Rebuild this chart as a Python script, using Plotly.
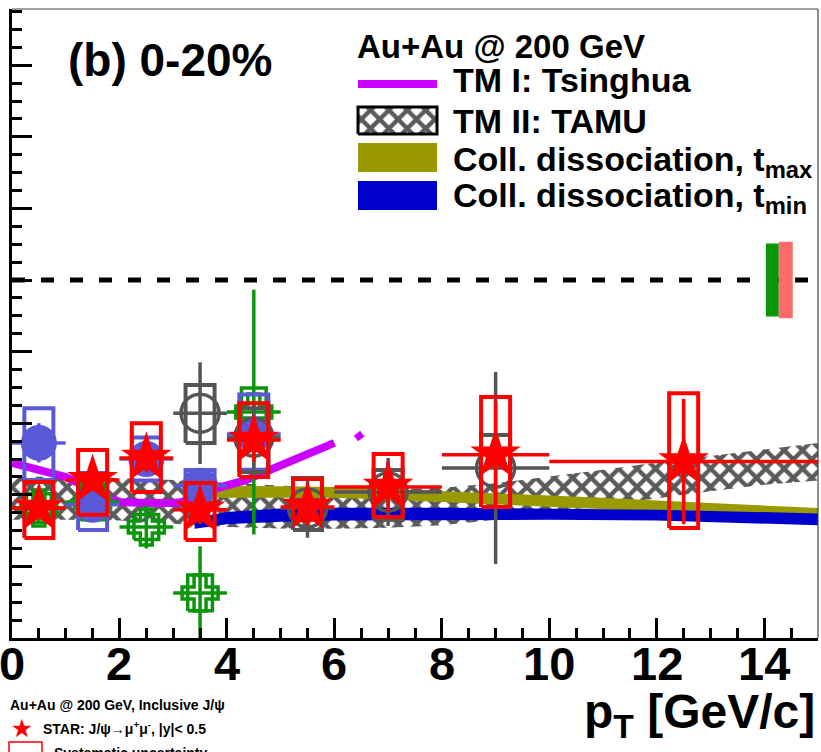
import plotly.graph_objects as go

# ---------------- data ----------------
# STAR J/psi -> mu+ mu-, |y| < 0.5, Au+Au 200 GeV, 0-20%
star_pt = [0.5, 1.5, 2.5, 3.5, 4.5, 5.5, 7.0, 9.0, 12.5]
star_raa = [0.363, 0.441, 0.503, 0.358, 0.553, 0.366, 0.422, 0.512, 0.493]
star_stat = [0.03, 0.03, 0.04, 0.04, 0.06, 0.05, 0.07, 0.15, 0.175]
star_xerr = [0.5, 0.5, 0.5, 0.5, 0.5, 0.5, 1.0, 1.0, 2.5]
star_sys_up = [0.073, 0.084, 0.097, 0.075, 0.103, 0.078, 0.092, 0.161, 0.191]
star_sys_dn = [0.084, 0.097, 0.095, 0.084, 0.103, 0.036, 0.084, 0.146, 0.186]

# low-pT reference measurement (filled circles)
blue_pt = [0.5, 1.5, 2.5, 3.5, 4.5]
blue_raa = [0.545, 0.372, 0.50, 0.425, 0.57]
blue_stat = [0.055, 0.03, 0.04, 0.04, 0.05]
blue_xerr = [0.5, 0.5, 0.5, 0.5, 0.5]
blue_sys_up = [0.097, 0.089, 0.06, 0.044, 0.11]
blue_sys_dn = [0.104, 0.07, 0.06, 0.05, 0.10]

# open crosses
green_pt = [0.5, 1.5, 2.5, 3.5, 4.5]
green_raa = [0.363, 0.38, 0.31, 0.126, 0.631]
green_stat = [0.04, 0.04, 0.06, 0.13, 0.342]
green_xerr = [0.5, 0.5, 0.5, 0.5, 0.5]
green_sys = [0.04, 0.05, 0.035, 0.05, 0.067]

# open circles, high pT
grey_pt = [3.5, 4.5, 5.5, 7.0, 9.0]
grey_raa = [0.628, 0.561, 0.363, 0.408, 0.475]
grey_stat = [0.142, 0.09, 0.083, 0.095, 0.268]
grey_xerr = [0.5, 0.5, 0.5, 1.0, 1.0]
grey_sys_up = [0.079, 0.081, 0.084, 0.061, 0.092]
grey_sys_dn = [0.083, 0.097, 0.061, 0.078, 0.109]

# TM I: Tsinghua
tm1_pt = [0.0, 0.5, 1.0, 1.5, 2.0, 2.5, 3.0, 3.5, 3.8, 4.35, 5.0, 5.5, 6.0, None, 6.42, 6.5]
tm1_raa = [0.489, 0.47, 0.45, 0.413, 0.38, 0.377, 0.377, 0.385, 0.418, 0.441, 0.482, 0.51, 0.545, None, 0.572, 0.556]

# TM II: TAMU band
tamu_pt = [0, 1, 2, 3, 4, 5, 6, 7, 8, 9, 10, 11, 12, 13, 14, 15]
tamu_hi = [0.452, 0.45, 0.447, 0.441, 0.433, 0.425, 0.418, 0.415, 0.42, 0.432, 0.45, 0.47, 0.49, 0.508, 0.527, 0.545]
tamu_lo = [0.33, 0.33, 0.328, 0.32, 0.31, 0.306, 0.305, 0.308, 0.315, 0.33, 0.35, 0.37, 0.39, 0.41, 0.428, 0.44]

# collisional dissociation, t_max
cdmax_pt = [3.6, 4, 5, 6, 7, 8, 9, 10, 11, 12, 13, 14, 15]
cdmax_hi = [0.425, 0.425, 0.424, 0.422, 0.416, 0.41, 0.405, 0.40, 0.392, 0.384, 0.377, 0.37, 0.363]
cdmax_lo = [0.392, 0.392, 0.392, 0.392, 0.386, 0.38, 0.374, 0.368, 0.36, 0.353, 0.346, 0.34, 0.332]

# collisional dissociation, t_min
cdmin_pt = [3.4, 4, 5, 6, 8, 10, 12, 13, 14, 15]
cdmin_hi = [0.335, 0.352, 0.362, 0.364, 0.364, 0.362, 0.358, 0.355, 0.352, 0.348]
cdmin_lo = [0.305, 0.318, 0.325, 0.328, 0.330, 0.330, 0.328, 0.324, 0.32, 0.315]

# global normalisation uncertainties around unity
global_unc = [0.102, 0.107]

x_ticks = [0, 2, 4, 6, 8, 10, 12, 14]

# ---------------- styling ----------------
W, H = 821, 752
ML, MR, MT, MB = 12, 3, 9, 114
X_RANGE = [0, 15]
Y_RANGE = [0, 1.757]
FONT = "Liberation Sans, Arial, Helvetica, sans-serif"

RED = "#ff0000"
BLUE_PT = "#5a5ad8"
GREEN = "#0a960a"
GREY = "#555555"
MAGENTA = "#cc00ff"
OLIVE = "#999900"
NAVY = "#0000cc"
HATCH = dict(shape="x", fgcolor="#5a5a5a", bgcolor="rgba(0,0,0,0)",
             size=13, solidity=0.55, fgopacity=1)

BOX_HW = 0.27


def paper_x(px):
    return (px - ML) / (W - ML - MR)


def paper_y(py):
    return (H - MB - py) / (H - MT - MB)


def data_x(px):
    return X_RANGE[0] + paper_x(px) * (X_RANGE[1] - X_RANGE[0])


def data_y(py):
    return Y_RANGE[0] + paper_y(py) * (Y_RANGE[1] - Y_RANGE[0])


def box_path(xs, ys, up, dn, hw):
    bx, by = [], []
    for x, y, u, d in zip(xs, ys, up, dn):
        bx += [x - hw, x + hw, x + hw, x - hw, x - hw, None]
        by += [y - d, y - d, y + u, y + u, y - d, None]
    return bx, by


def band(xs, lo, hi):
    return list(xs) + list(xs)[::-1], list(hi) + list(lo)[::-1]


fig = go.Figure()

# model bands
bx, by = band(tamu_pt, tamu_lo, tamu_hi)
fig.add_trace(go.Scatter(
    x=bx, y=by, mode="lines", fill="toself", line=dict(width=0),
    fillcolor="rgba(0,0,0,0)", fillpattern=HATCH, hoverinfo="skip"))

bx, by = band(cdmax_pt, cdmax_lo, cdmax_hi)
fig.add_trace(go.Scatter(x=bx, y=by, mode="lines", fill="toself",
                         line=dict(width=0, color=OLIVE), fillcolor=OLIVE))

bx, by = band(cdmin_pt, cdmin_lo, cdmin_hi)
fig.add_trace(go.Scatter(x=bx, y=by, mode="lines", fill="toself",
                         line=dict(width=0, color=NAVY), fillcolor=NAVY))

fig.add_trace(go.Scatter(x=tm1_pt, y=tm1_raa, mode="lines",
                         line=dict(color=MAGENTA, width=8), connectgaps=False))


def add_points(xs, ys, stat, xerr, sys_up, sys_dn, color, marker, hw, lw=4):
    sx, sy = box_path(xs, ys, sys_up, sys_dn, hw)
    fig.add_trace(go.Scatter(x=sx, y=sy, mode="lines",
                             line=dict(color=color, width=lw)))
    fig.add_trace(go.Scatter(
        x=xs, y=ys, mode="markers", marker=marker,
        error_x=dict(type="data", array=xerr, color=color, thickness=3.5, width=0),
        error_y=dict(type="data", array=stat, color=color, thickness=3.5, width=0)))


add_points(green_pt, green_raa, green_stat, green_xerr, green_sys, green_sys, GREEN,
           dict(symbol="cross-open", size=30, color=GREEN, line=dict(width=3.5, color=GREEN)),
           0.23, lw=3.5)
add_points(blue_pt, blue_raa, blue_stat, blue_xerr, blue_sys_up, blue_sys_dn, BLUE_PT,
           dict(symbol="circle", size=36, color=BLUE_PT, line=dict(width=0)), BOX_HW)
add_points(grey_pt, grey_raa, grey_stat, grey_xerr, grey_sys_up, grey_sys_dn, GREY,
           dict(symbol="circle-open", size=38, color=GREY, line=dict(width=3.5, color=GREY)),
           BOX_HW)
add_points(star_pt, star_raa, star_stat, star_xerr, star_sys_up, star_sys_dn, RED,
           dict(symbol="star", size=38, color=RED, line=dict(width=0)), BOX_HW)

# hatched swatch for the TAMU legend entry
sw_x = [data_x(358), data_x(437), data_x(437), data_x(358), data_x(358)]
sw_y = [data_y(134), data_y(134), data_y(107), data_y(107), data_y(134)]
fig.add_trace(go.Scatter(
    x=sw_x, y=sw_y, mode="lines", fill="toself", line=dict(color="black", width=3),
    fillcolor="rgba(0,0,0,0)", fillpattern=HATCH))

shapes = []
# unity reference
shapes.append(dict(type="line", xref="paper", yref="y", x0=0, x1=1, y0=1, y1=1,
                   line=dict(color="black", width=5, dash="13px,16px"), layer="below"))
# global uncertainty boxes
for (gx0, gx1), g, col in zip([(14.03, 14.27), (14.27, 14.53)], global_unc,
                              [GREEN, "#ff6b6b"]):
    shapes.append(dict(type="rect", xref="x", yref="y", x0=gx0, x1=gx1,
                       y0=1 - g, y1=1 + g, fillcolor=col, line=dict(width=0)))
# thin frame on top and right
shapes.append(dict(type="line", xref="paper", yref="paper", x0=0, x1=1, y0=1, y1=1,
                   line=dict(color="#444444", width=1.2)))
shapes.append(dict(type="line", xref="paper", yref="paper", x0=1, x1=1, y0=0, y1=1,
                   line=dict(color="#444444", width=1.2)))
# legend swatches
shapes.append(dict(type="line", xref="paper", yref="paper",
                   x0=paper_x(358), x1=paper_x(437), y0=paper_y(84), y1=paper_y(84),
                   line=dict(color=MAGENTA, width=8)))
shapes.append(dict(type="rect", xref="paper", yref="paper",
                   x0=paper_x(358), x1=paper_x(437), y0=paper_y(172), y1=paper_y(143),
                   fillcolor=OLIVE, line=dict(width=0)))
shapes.append(dict(type="rect", xref="paper", yref="paper",
                   x0=paper_x(358), x1=paper_x(437), y0=paper_y(210), y1=paper_y(181),
                   fillcolor=NAVY, line=dict(width=0)))
# systematic-uncertainty box of the lower legend
shapes.append(dict(type="rect", xref="paper", yref="paper",
                   x0=paper_x(9), x1=paper_x(42), y0=paper_y(762), y1=paper_y(742),
                   line=dict(color=RED, width=1.5)))

annotations = []


def note(text, px, py, size, xanchor="left", yanchor="middle", color="black",
         bold=True, family=FONT):
    annotations.append(dict(
        text=text, x=paper_x(px), y=paper_y(py), xref="paper", yref="paper",
        xanchor=xanchor, yanchor=yanchor, showarrow=False,
        font=dict(family=family, size=size, color=color,
                  weight="bold" if bold else "normal")))


# x tick labels placed at the axis values
for v in x_ticks:
    annotations.append(dict(
        text=str(v), x=v, xref="x", y=paper_y(663), yref="paper",
        xanchor="center", yanchor="middle", showarrow=False,
        font=dict(family=FONT, size=47, color="black", weight="bold")))

note("(b) 0-20%", 170, 60, 46, xanchor="center")
note("Au+Au @ 200 GeV", 355, 46, 33)
note("TM I: Tsinghua", 451, 80, 34)
note("TM II: TAMU", 451, 121, 34)
note("Coll. dissociation, t<sub>max</sub>", 451, 162, 34)
note("Coll. dissociation, t<sub>min</sub>", 451, 198, 34)
note("p<sub>T</sub> [GeV/c]", 817, 715, 48, xanchor="right")
note("Au+Au @ 200 GeV, Inclusive J/\u03c8", 8, 705, 14)
note("\u2605", 22, 728, 22, xanchor="center", color=RED)
note("STAR: J/\u03c8\u2192\u03bc<sup>+</sup>\u03bc<sup>-</sup>, |y|< 0.5", 41, 728, 14)
note("Systematic uncertainty", 52, 753, 14)

fig.update_layout(
    width=W, height=H,
    margin=dict(l=ML, r=MR, t=MT, b=MB, pad=0),
    paper_bgcolor="white", plot_bgcolor="white",
    showlegend=False,
    shapes=shapes, annotations=annotations,
    font=dict(family=FONT, color="black"),
    xaxis=dict(range=X_RANGE, showgrid=False, zeroline=False,
               showline=True, linecolor="black", linewidth=3,
               ticks="inside", ticklen=20, tickwidth=3, tickcolor="black",
               tickvals=x_ticks, showticklabels=False,
               minor=dict(dtick=0.5, ticks="inside", ticklen=10, tickwidth=3,
                          tickcolor="black", showgrid=False)),
    yaxis=dict(range=Y_RANGE, showgrid=False, zeroline=False,
               showline=True, linecolor="black", linewidth=3,
               ticks="inside", ticklen=20, tickwidth=3, tickcolor="black",
               tick0=0, dtick=0.2, showticklabels=False,
               minor=dict(dtick=0.05, ticks="inside", ticklen=10, tickwidth=3,
                          tickcolor="black", showgrid=False)),
)

fig.write_html("out.html")
